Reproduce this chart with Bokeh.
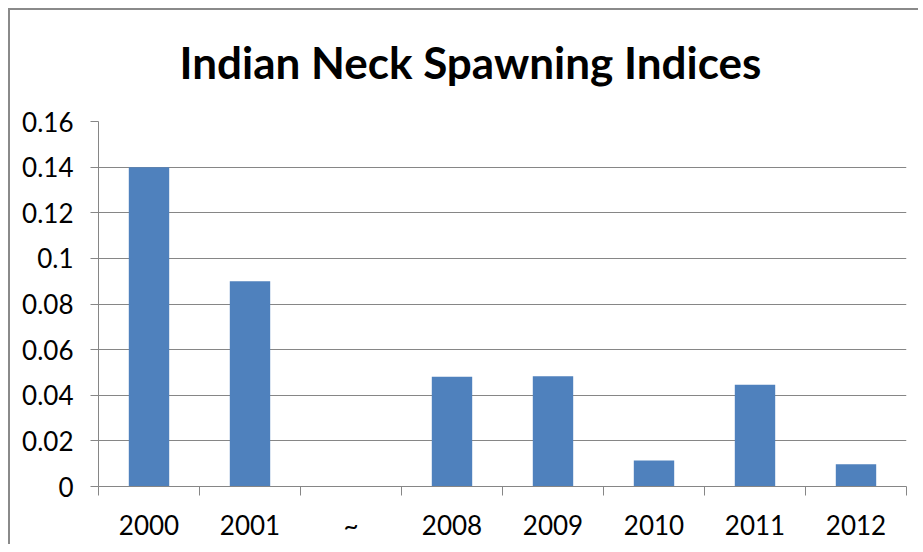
from bokeh.plotting import figure
from bokeh.models import Range1d, FactorRange, FixedTicker, CategoricalAxis, LinearAxis, Title
from bokeh.embed import file_html
from bokeh.resources import INLINE

categories = ["2000", "2001", "~", "2008", "2009", "2010", "2011", "2012"]
values = [0.140, 0.090, 0.0, 0.0481, 0.0483, 0.0114, 0.0446, 0.0098]
ytick_values = [0, 0.02, 0.04, 0.06, 0.08, 0.1, 0.12, 0.14, 0.16]
ytick_labels = ["0", "0.02", "0.04", "0.06", "0.08", "0.1", "0.12", "0.14", "0.16"]
title_text = "Indian Neck Spawning Indices"

BAR = "#4F81BD"
GRID = "#868686"
FONT = "Lato"

p = figure(width=910, height=536,
           x_range=FactorRange(factors=categories),
           y_range=Range1d(ytick_values[0], ytick_values[-1]),
           x_axis_location=None,
           output_backend="svg", toolbar_location=None,
           min_border_left=88, min_border_right=14,
           min_border_top=111, min_border_bottom=60,
           title=None)
p.outline_line_color = None
p.background_fill_color = "white"
p.border_fill_color = "white"
p.styles = {"margin-left": "8px", "margin-top": "8px",
            "border-left": "2px solid #8a8a8a", "border-top": "2px solid #8a8a8a"}

p.vbar(x=categories, top=values, width=0.4,
       fill_color=BAR, line_color=None)

# tick axis: marks at the boundaries between categories (no labels)
boundaries = list(range(len(categories) + 1))
tick_axis = LinearAxis(ticker=FixedTicker(ticks=boundaries))
tick_axis.major_label_overrides = {b: "" for b in boundaries}
tick_axis.major_label_text_font_size = "1px"
tick_axis.major_label_standoff = 0
tick_axis.major_tick_in = 0
tick_axis.major_tick_out = 9
tick_axis.minor_tick_line_color = None
tick_axis.axis_line_color = GRID
tick_axis.major_tick_line_color = GRID
p.add_layout(tick_axis, "below")

cat_axis = CategoricalAxis()
cat_axis.axis_line_color = None
cat_axis.major_tick_line_color = None
cat_axis.major_label_standoff = 7
cat_axis.major_label_text_font = FONT
cat_axis.major_label_text_font_size = "26px"
cat_axis.major_label_text_color = "black"
p.add_layout(cat_axis, "below")

ya = p.yaxis[0]
ya.ticker = FixedTicker(ticks=ytick_values)
ya.major_label_overrides = dict(zip(ytick_values, ytick_labels))
ya.major_tick_in = 0
ya.major_tick_out = 8
ya.minor_tick_line_color = None
ya.major_label_standoff = 17
ya.major_label_text_font = FONT
ya.major_label_text_font_size = "26px"
ya.major_label_text_color = "black"
ya.axis_line_color = GRID
ya.major_tick_line_color = GRID

p.xgrid.visible = False
p.ygrid.ticker = FixedTicker(ticks=ytick_values)
p.ygrid.grid_line_color = GRID
p.ygrid.grid_line_width = 1

# invisible spacer between the frame and the title (one hidden tick so it takes room)
spacer_ticks = [len(categories) / 2]
spacer = LinearAxis(ticker=FixedTicker(ticks=spacer_ticks))
spacer.major_label_overrides = {v: "" for v in spacer_ticks}
spacer.major_label_text_font_size = "1px"
spacer.axis_line_color = None
spacer.major_tick_line_color = None
spacer.minor_tick_line_color = None
spacer.major_tick_in = 0
spacer.major_tick_out = 10
spacer.major_label_standoff = 0
p.add_layout(spacer, "above")

t = Title(text=title_text, align="left", offset=81, text_font=FONT,
          text_font_style="bold", text_font_size="44px", standoff=44,
          vertical_align="top", text_color="black")
p.add_layout(t, "above")

open("out.html", "w").write(file_html(p, INLINE))
